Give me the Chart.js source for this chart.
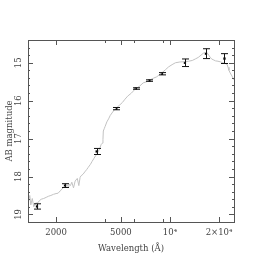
<!DOCTYPE html>
<html>
<head>
<meta charset="utf-8">
<script src="https://cdn.jsdelivr.net/npm/chart.js@4/dist/chart.umd.min.js"></script>
<style>
  html, body { margin: 0; padding: 0; background: #fff; }
  #wrap { width: 262px; height: 262px; }
</style>
</head>
<body>
<div id="wrap"><canvas id="sedChart"></canvas></div>
<script>
// model spectrum (wavelength in Angstrom, AB mag)
const waveModel = [1350, 1380, 1400, 1430, 1460, 1500, 1540, 1580, 1620, 1680, 1740, 1800, 1860, 1930, 2000, 2060, 2120, 2180, 2230, 2280, 2330, 2370, 2400, 2450, 2500, 2560, 2620, 2700, 2760, 2810, 2850, 2930, 3000, 3080, 3150, 3250, 3330, 3420, 3500, 3600, 3700, 3780, 3850, 3880, 3900, 3950, 4000, 4100, 4200, 4300, 4450, 4600, 4750, 4900, 5100, 5300, 5500, 5800, 6100, 6500, 6850, 7200, 7550, 7900, 8300, 8700, 9000, 9400, 9800, 10300, 10800, 11500, 12400, 13000, 13700, 14300, 14900, 15500, 16000, 16500, 16900, 17300, 17600, 18000, 18400, 19000, 19700, 20500, 21100, 21800, 22400, 22700, 23000, 23400, 24000, 24700];
const magModel = [18.70, 18.50, 18.75, 18.58, 18.80, 18.70, 18.70, 18.64, 18.60, 18.58, 18.55, 18.52, 18.50, 18.47, 18.45, 18.44, 18.38, 18.33, 18.28, 18.28, 18.22, 18.27, 18.20, 18.24, 18.15, 18.30, 18.12, 18.05, 18.24, 18.02, 17.98, 17.94, 17.88, 17.82, 17.76, 17.68, 17.60, 17.52, 17.45, 17.37, 17.27, 17.16, 17.12, 17.02, 16.80, 16.74, 16.68, 16.56, 16.48, 16.39, 16.30, 16.22, 16.17, 16.12, 16.05, 15.96, 15.88, 15.80, 15.70, 15.62, 15.53, 15.50, 15.45, 15.41, 15.37, 15.30, 15.25, 15.18, 15.11, 15.05, 15.00, 14.98, 14.97, 14.96, 14.94, 14.90, 14.86, 14.80, 14.75, 14.73, 14.74, 14.80, 14.85, 14.90, 14.92, 14.95, 14.96, 14.98, 15.00, 15.02, 15.04, 15.12, 15.20, 15.27, 15.35, 15.45];

// photometry points with errors
const waveObs = [1528, 2271, 3551, 4686, 6165, 7481, 8931, 12350, 16620, 21590];
const magObs = [18.79, 18.24, 17.34, 16.21, 15.68, 15.47, 15.29, 15.00, 14.76, 14.89];
const errObs = [0.07, 0.05, 0.08, 0.03, 0.02, 0.02, 0.03, 0.10, 0.13, 0.13];

// axis ticks
const magTicks = [15, 16, 17, 18, 19];
const waveTicks = [2000, 5000, 10000, 20000];
const waveTickLabels = ['2000', '5000', '10\u2074', '2\u00d710\u2074'];
const waveMinor = [4000, 6000, 9000];

const axisColor = '#555';
const textColor = '#444';
const labelFont = '8.5px "DejaVu Serif", serif';

const errorBars = {
  id: 'errorBars',
  afterDatasetsDraw(chart) {
    const { ctx, scales: { x, y } } = chart;
    ctx.save();
    ctx.strokeStyle = '#111';
    ctx.lineWidth = 1;
    waveObs.forEach((w, i) => {
      const px = Math.round(x.getPixelForValue(w)) + 0.5;
      const y1 = y.getPixelForValue(magObs[i] - errObs[i]);
      const y2 = y.getPixelForValue(magObs[i] + errObs[i]);
      ctx.beginPath();
      ctx.moveTo(px, y1); ctx.lineTo(px, y2);
      ctx.moveTo(px - 3.5, y1); ctx.lineTo(px + 3.5, y1);
      ctx.moveTo(px - 3.5, y2); ctx.lineTo(px + 3.5, y2);
      ctx.stroke();
    });
    ctx.restore();
  }
};

// frame with inward ticks, labels and titles
const frame = {
  id: 'frame',
  afterDraw(chart) {
    const { ctx, chartArea: a, scales: { x, y } } = chart;
    ctx.save();
    ctx.strokeStyle = axisColor;
    ctx.lineWidth = 1;
    ctx.strokeRect(a.left + 0.5, a.top + 0.5, a.right - a.left, a.bottom - a.top);

    ctx.beginPath();
    for (let m = 14.4; m <= 19.2; m += 0.2) {
      const v = Math.round(m * 10) / 10;
      if (v < y.min || v > y.max) continue;
      const py = Math.round(y.getPixelForValue(v)) + 0.5;
      const len = Number.isInteger(v) ? 5 : 2;
      ctx.moveTo(a.left, py); ctx.lineTo(a.left + len, py);
      ctx.moveTo(a.right, py); ctx.lineTo(a.right - len, py);
    }
    waveMinor.forEach(w => {
      const px = Math.round(x.getPixelForValue(w)) + 0.5;
      ctx.moveTo(px, a.bottom); ctx.lineTo(px, a.bottom - 3);
      ctx.moveTo(px, a.top); ctx.lineTo(px, a.top + 3);
    });
    waveTicks.forEach(w => {
      const px = Math.round(x.getPixelForValue(w)) + 0.5;
      ctx.moveTo(px, a.bottom); ctx.lineTo(px, a.bottom - 5);
      ctx.moveTo(px, a.top); ctx.lineTo(px, a.top + 5);
    });
    ctx.stroke();

    ctx.fillStyle = textColor;
    ctx.font = labelFont;
    ctx.textAlign = 'center';
    ctx.textBaseline = 'middle';
    waveTicks.forEach((w, i) => {
      ctx.fillText(waveTickLabels[i], x.getPixelForValue(w), a.bottom + 11);
    });
    magTicks.forEach(m => {
      ctx.save();
      ctx.translate(a.left - 9, y.getPixelForValue(m));
      ctx.rotate(-Math.PI / 2);
      ctx.fillText(String(m), 0, 0);
      ctx.restore();
    });

    ctx.fillText('Wavelength (\u00c5)', (a.left + a.right) / 2, a.bottom + 27);
    ctx.save();
    ctx.translate(10, (a.top + a.bottom) / 2);
    ctx.rotate(-Math.PI / 2);
    ctx.fillText('AB magnitude', 0, 0);
    ctx.restore();
    ctx.restore();
  }
};

new Chart(document.getElementById('sedChart'), {
  type: 'scatter',
  data: {
    datasets: [{
      label: 'model',
      data: waveModel.map((w, i) => ({ x: w, y: magModel[i] })),
      showLine: true,
      borderColor: '#c2c2c2',
      borderWidth: 1,
      pointRadius: 0,
      tension: 0
    }, {
      label: 'observed',
      data: waveObs.map((w, i) => ({ x: w, y: magObs[i] })),
      pointStyle: 'rect',
      pointRadius: 1.6,
      backgroundColor: '#000',
      borderColor: '#000',
      borderWidth: 0
    }]
  },
  options: {
    responsive: true,
    maintainAspectRatio: false,
    animation: false,
    layout: { padding: { left: 28, right: 28, top: 40, bottom: 40 } },
    plugins: { legend: { display: false }, tooltip: { enabled: false } },
    scales: {
      x: { type: 'logarithmic', min: 1346, max: 24700, display: false },
      y: { type: 'linear', min: 14.4, max: 19.2, reverse: true, display: false }
    }
  },
  plugins: [errorBars, frame]
});
</script>
</body>
</html>
